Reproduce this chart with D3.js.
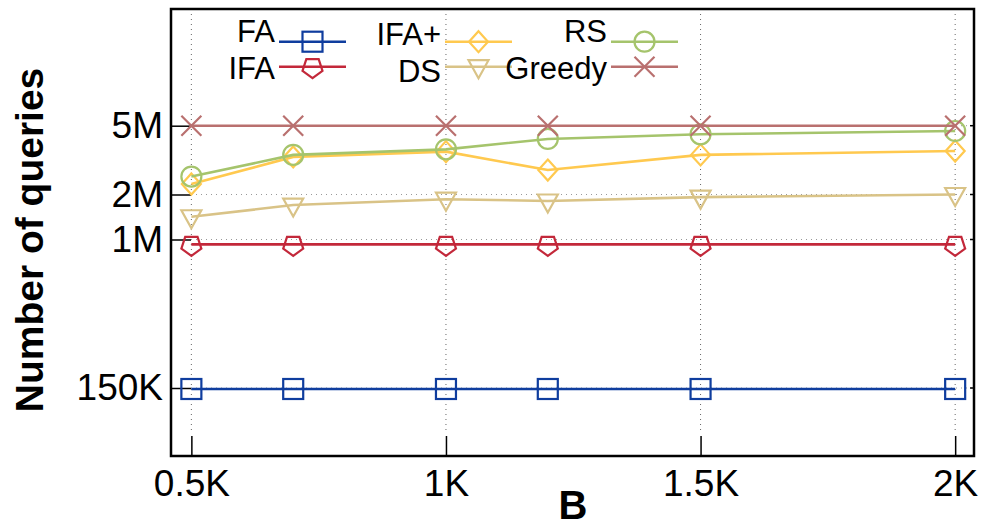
<!DOCTYPE html>
<html>
<head>
<meta charset="utf-8">
<script src="https://cdn.jsdelivr.net/npm/d3@7"></script>
<style>
    body { margin: 0; background: #fff; }
    svg { display: block; font-family: Arial, "Liberation Sans", sans-serif; }
</style>
</head>
<body>
<div id="chart"></div>
<script>
// x values (B, in K)
let bValues = [0.5, 0.7, 1.0, 1.2, 1.5, 2.0];
let xTickValues = [0.5, 1, 1.5, 2];
let xTickLabels = ['0.5K', '1K', '1.5K', '2K'];
let yTickValues = [150e3, 1e6, 2e6, 5e6];
let yTickLabels = ['150K', '1M', '2M', '5M'];

let seriesNames = ['FA', 'IFA', 'IFA+', 'DS', 'RS', 'Greedy'];
let faValues     = [148e3, 148e3, 148e3, 148e3, 148e3, 148e3];
let ifaValues    = [0.94e6, 0.94e6, 0.94e6, 0.94e6, 0.94e6, 0.94e6];
let ifaPlusValues = [2.3e6, 3.3e6, 3.54e6, 2.77e6, 3.39e6, 3.57e6];
let dsValues     = [1.42e6, 1.70e6, 1.86e6, 1.81e6, 1.92e6, 2.0e6];
let rsValues     = [2.54e6, 3.39e6, 3.65e6, 4.19e6, 4.46e6, 4.66e6];
let greedyValues = [5e6, 5e6, 5e6, 5e6, 5e6, 5e6];

(function () {
    let width = 987, height = 526;
    let left = 171, right = 974, top = 9, bottom = 456;

    let colors = ['#0f3d9e', '#c3283a', '#ffc94f', '#d9c387', '#a5c46c', '#b9706f'];
    let symbols = ['square', 'pentagon', 'diamond', 'triangle', 'circle', 'cross'];
    let allValues = [faValues, ifaValues, ifaPlusValues, dsValues, rsValues, greedyValues];

    let svg = d3.select('#chart')
        .append('svg')
        .attr('width', width)
        .attr('height', height);

    let x = d3.scaleLinear()
        .domain([0.46, 2.037])
        .range([left, right]);

    // 纵轴是对数刻度，但刻度间距不均匀，用分段的对数比例尺
    let y = d3.scaleLog()
        .domain([60e3, 150e3, 1e6, 2e6, 5e6, 24e6])
        .range([bottom, 388, 239.5, 194.5, 125.7, top]);

    // 网格线
    svg.append('g')
        .selectAll('line')
        .data(xTickValues)
        .enter()
        .append('line')
        .attr('x1', d => x(d))
        .attr('x2', d => x(d))
        .attr('y1', top)
        .attr('y2', bottom - 22)
        .attr('stroke', '#666')
        .attr('stroke-width', 1)
        .attr('stroke-dasharray', '1,4');

    svg.append('g')
        .selectAll('line')
        .data(yTickValues)
        .enter()
        .append('line')
        .attr('x1', left + 20)
        .attr('x2', right)
        .attr('y1', d => y(d))
        .attr('y2', d => y(d))
        .attr('stroke', '#999')
        .attr('stroke-width', 1)
        .attr('stroke-dasharray', '1,4');

    // 坐标轴（刻度朝内）
    let axisX = d3.axisBottom(x)
        .tickValues(xTickValues)
        .tickFormat((d, i) => xTickLabels[i])
        .tickSizeInner(-20)
        .tickSizeOuter(0)
        .tickPadding(14);

    let gx = svg.append('g')
        .attr('transform', 'translate(0,' + bottom + ')')
        .call(axisX);
    gx.select('.domain').remove();
    gx.selectAll('line').attr('stroke', '#000').attr('stroke-width', 1.5);
    gx.selectAll('text')
        .attr('font-size', 37)
        .attr('font-family', 'Arial, "Liberation Sans", sans-serif')
        .attr('fill', '#000');

    let axisY = d3.axisLeft(y)
        .tickValues(yTickValues)
        .tickFormat((d, i) => yTickLabels[i])
        .tickSizeInner(-20)
        .tickSizeOuter(0)
        .tickPadding(8);

    let gy = svg.append('g')
        .attr('transform', 'translate(' + left + ',0)')
        .call(axisY);
    gy.select('.domain').remove();
    gy.selectAll('line').attr('stroke', '#000').attr('stroke-width', 1.5);
    gy.selectAll('text')
        .attr('font-size', 37)
        .attr('font-family', 'Arial, "Liberation Sans", sans-serif')
        .attr('fill', '#000');

    // 右侧的小刻度
    svg.append('g')
        .selectAll('line')
        .data(yTickValues)
        .enter()
        .append('line')
        .attr('x1', right - 4)
        .attr('x2', right)
        .attr('y1', d => y(d))
        .attr('y2', d => y(d))
        .attr('stroke', '#000')
        .attr('stroke-width', 1.5);

    // 画标记点
    function drawMarker(g, type, cx, cy, color) {
        let s = 10;
        if (type === 'square') {
            g.append('rect')
                .attr('x', cx - s).attr('y', cy - s)
                .attr('width', 2 * s).attr('height', 2 * s);
        } else if (type === 'circle') {
            g.append('circle')
                .attr('cx', cx).attr('cy', cy).attr('r', s);
        } else if (type === 'diamond') {
            g.append('path')
                .attr('d', 'M' + cx + ',' + (cy - 10.5) + 'L' + (cx + 9.5) + ',' + cy +
                    'L' + cx + ',' + (cy + 10.5) + 'L' + (cx - 9.5) + ',' + cy + 'Z');
        } else if (type === 'triangle') {
            g.append('path')
                .attr('d', 'M' + (cx - 10) + ',' + (cy - 6.5) + 'L' + (cx + 10) + ',' + (cy - 6.5) +
                    'L' + cx + ',' + (cy + 11.5) + 'Z');
        } else if (type === 'pentagon') {
            let pts = d3.range(5).map(function (k) {
                let a = Math.PI / 2 + k * 2 * Math.PI / 5;
                return [cx + 10.5 * Math.cos(a), cy + 1 + 10.5 * Math.sin(a)];
            });
            g.append('path').attr('d', 'M' + pts.join('L') + 'Z');
        } else if (type === 'cross') {
            g.append('path')
                .attr('d', 'M' + (cx - s) + ',' + (cy - s) + 'L' + (cx + s) + ',' + (cy + s) +
                    'M' + (cx - s) + ',' + (cy + s) + 'L' + (cx + s) + ',' + (cy - s));
        }
        g.selectAll('*')
            .attr('fill', 'none')
            .attr('stroke', color)
            .attr('stroke-width', 2.2);
    }

    let line = d3.line()
        .x((d, i) => x(bValues[i]))
        .y(d => y(d));

    allValues.forEach(function (vals, si) {
        let g = svg.append('g');
        g.append('path')
            .datum(vals)
            .attr('d', line)
            .attr('fill', 'none')
            .attr('stroke', colors[si])
            .attr('stroke-width', 2.6);
        vals.forEach(function (v, i) {
            drawMarker(g.append('g'), symbols[si], x(bValues[i]), y(v), colors[si]);
        });
    });

    // 图例
    let legendCols = [279, 445, 611];
    let legendRows = [41.7, 66.7];
    let textBase = [42, 79];
    seriesNames.forEach(function (name, si) {
        let col = Math.floor(si / 2), row = si % 2;
        let x0 = legendCols[col], yy = legendRows[row];
        let g = svg.append('g');
        g.append('line')
            .attr('x1', x0).attr('x2', x0 + 67)
            .attr('y1', yy).attr('y2', yy)
            .attr('stroke', colors[si])
            .attr('stroke-width', 2.6);
        drawMarker(g.append('g'), symbols[si], x0 + 33.5, yy, colors[si]);
        g.append('text')
            .attr('x', x0 - 4)
            .attr('y', textBase[row] + (col === 1 ? 3 : 0))
            .attr('text-anchor', 'end')
            .attr('font-size', 31)
            .attr('fill', '#000')
            .text(name);
    });

    // 外框
    svg.append('rect')
        .attr('x', left)
        .attr('y', top)
        .attr('width', right - left)
        .attr('height', bottom - top)
        .attr('fill', 'none')
        .attr('stroke', '#000')
        .attr('stroke-width', 2.5);

    // 坐标轴标题
    svg.append('text')
        .attr('x', 573)
        .attr('y', 519)
        .attr('text-anchor', 'middle')
        .attr('font-size', 40)
        .attr('font-weight', 'bold')
        .text('B');

    svg.append('text')
        .attr('transform', 'translate(43,240) rotate(-90)')
        .attr('text-anchor', 'middle')
        .attr('font-size', 39)
        .attr('font-weight', 'bold')
        .text('Number of queries');
})();
</script>
</body>
</html>
